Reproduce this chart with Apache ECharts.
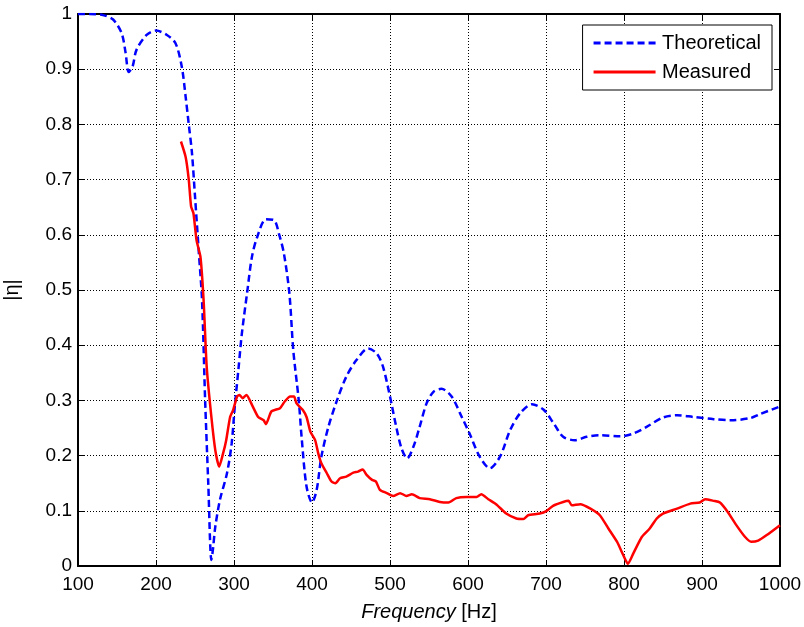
<!DOCTYPE html>
<html>
<head>
<meta charset="utf-8">
<script src="https://cdn.jsdelivr.net/npm/echarts@6/dist/echarts.min.js"></script>
<style>
html,body{margin:0;padding:0;background:#fff;}
#chart{width:804px;height:627px;}
</style>
</head>
<body>
<div id="chart"></div>
<script>
var theoreticalHz = [100,115,132,145,156,161,165,170,175,188,200,214,225,233,238,242,246,250,255,259,263,267,271,273,276,282,291,297,301,306,310,317,323,330,341,351,358,364,371,376,383,387,393,400,406,412,421,432,444,457,472,483,491,500,508,515,522,530,538,547,556,566,579,592,602,615,628,641,654,667,682,697,710,722,737,752,769,795,812,829,850,868,889,915,937,962,974,1000];
var theoreticalVal = [1.0,1.0,0.998,0.99,0.965,0.93,0.895,0.905,0.935,0.962,0.97,0.962,0.947,0.905,0.85,0.80,0.75,0.67,0.566,0.482,0.30,0.15,0.011,0.03,0.071,0.12,0.168,0.222,0.289,0.361,0.42,0.497,0.56,0.597,0.628,0.627,0.60,0.566,0.494,0.391,0.30,0.228,0.144,0.115,0.138,0.198,0.252,0.30,0.343,0.373,0.394,0.385,0.361,0.307,0.252,0.212,0.195,0.216,0.252,0.295,0.316,0.321,0.307,0.27,0.24,0.198,0.177,0.198,0.246,0.277,0.293,0.283,0.258,0.234,0.228,0.234,0.237,0.235,0.24,0.252,0.269,0.273,0.27,0.266,0.264,0.268,0.275,0.289];
var measuredHz = [232,238,242,245,248,252,257,261,265,271,276,281,286,290,295,299,304,307,311,316,323,331,338,341,348,359,365,372,377,380,388,393,398,404,408,412,419,425,430,436,444,453,459,465,470,477,482,487,496,504,513,521,528,538,551,564,575,585,598,611,617,626,636,649,662,671,677,692,701,709,722,729,733,744,757,769,780,791,799,805,812,823,833,842,850,868,885,897,904,915,923,933,944,955,963,972,983,1000];
var measuredVal = [0.769,0.741,0.70,0.651,0.639,0.59,0.56,0.482,0.361,0.27,0.21,0.18,0.204,0.228,0.27,0.283,0.307,0.31,0.304,0.31,0.292,0.27,0.264,0.257,0.28,0.286,0.298,0.307,0.307,0.295,0.283,0.27,0.243,0.228,0.204,0.186,0.168,0.153,0.15,0.159,0.162,0.169,0.171,0.175,0.165,0.156,0.153,0.138,0.132,0.127,0.132,0.127,0.13,0.123,0.121,0.116,0.115,0.123,0.125,0.125,0.13,0.121,0.112,0.095,0.086,0.085,0.092,0.095,0.1,0.109,0.116,0.118,0.11,0.112,0.104,0.092,0.068,0.044,0.02,0.004,0.023,0.053,0.068,0.086,0.095,0.104,0.113,0.115,0.121,0.118,0.115,0.098,0.074,0.053,0.044,0.046,0.056,0.074];
var seriesNames = ['Theoretical','Measured'];
var xTitle = 'Frequency';
var xUnit = ' [Hz]';
var yTitle = '|η|';

function pairs(xs, ys){ var out=[]; for(var i=0;i<xs.length;i++){ out.push([xs[i], ys[i]]); } return out; }

var font = 'Liberation Sans, Arial, sans-serif';
var gridLine = {show:true, lineStyle:{color:'#000', type:[1,2], width:1}};
var dashIcon = 'path://M0,0h7v3h-7z M11,0h7v3h-7z M22,0h7v3h-7z M33,0h7v3h-7z M44,0h7v3h-7z M55,0h7v3h-7z';
var solidIcon = 'path://M0,0h62v3h-62z';
var chart = echarts.init(document.getElementById('chart'), null, {renderer:'canvas'});
chart.setOption({
  animation:false,
  backgroundColor:'#fff',
  grid:{left:78, right:24, top:14, bottom:61, containLabel:false, outerBoundsMode:'none'},
  legend:{
    data:[{name:seriesNames[0], icon:dashIcon}, {name:seriesNames[1], icon:solidIcon}],
    orient:'vertical',
    right:32, top:25,
    itemWidth:65, itemHeight:3, itemGap:9,
    padding:[8,11,8,11],
    borderColor:'#000', borderWidth:1, backgroundColor:'#fff',
    textStyle:{fontFamily:font, fontSize:20, color:'#000'}
  },
  xAxis:[{
    type:'value', min:100, max:1000, interval:100,
    name:'{i|' + xTitle + '}' + xUnit, nameLocation:'middle', nameGap:36,
    nameTextStyle:{fontFamily:font, fontSize:20, color:'#000', rich:{i:{fontStyle:'italic', fontFamily:font, fontSize:20, color:'#000'}}},
    axisLine:{show:true, onZero:false, lineStyle:{color:'#000', width:2}},
    axisTick:{show:true, inside:true, length:6, lineStyle:{color:'#000'}},
    axisLabel:{fontFamily:font, fontSize:19, color:'#000', margin:9, formatter:function(v){return String(v);}},
    splitLine:gridLine
  },{
    type:'value', position:'top', min:100, max:1000, interval:100,
    axisLine:{show:true, onZero:false, lineStyle:{color:'#000', width:2}},
    axisTick:{show:true, inside:true, length:6, lineStyle:{color:'#000'}},
    axisLabel:{show:false}, splitLine:{show:false}
  }],
  yAxis:[{
    type:'value', min:0, max:1, interval:0.1,
    name:yTitle, nameLocation:'middle', nameGap:56, nameRotate:90,
    nameTextStyle:{fontFamily:font, fontSize:20, color:'#000'},
    axisLine:{show:true, onZero:false, lineStyle:{color:'#000', width:2}},
    axisTick:{show:true, inside:true, length:6, lineStyle:{color:'#000'}},
    axisLabel:{fontFamily:font, fontSize:19, color:'#000', margin:6, formatter:function(v){return String(Math.round(v*10)/10);}},
    splitLine:gridLine
  },{
    type:'value', position:'right', min:0, max:1, interval:0.1,
    axisLine:{show:true, onZero:false, lineStyle:{color:'#000', width:2}},
    axisTick:{show:true, inside:true, length:6, lineStyle:{color:'#000'}},
    axisLabel:{show:false}, splitLine:{show:false}
  }],
  series:[{
    name:seriesNames[0], type:'line', symbol:'none', smooth:0.3,
    data:pairs(theoreticalHz, theoreticalVal),
    itemStyle:{color:'#0000ff'},
    lineStyle:{color:'#0000ff', width:2.5, type:[7,4]}
  },{
    name:seriesNames[1], type:'line', symbol:'none', smooth:0.2,
    data:pairs(measuredHz, measuredVal),
    itemStyle:{color:'#ff0000'},
    lineStyle:{color:'#ff0000', width:2.5, type:'solid'}
  }]
});
</script>
</body>
</html>
